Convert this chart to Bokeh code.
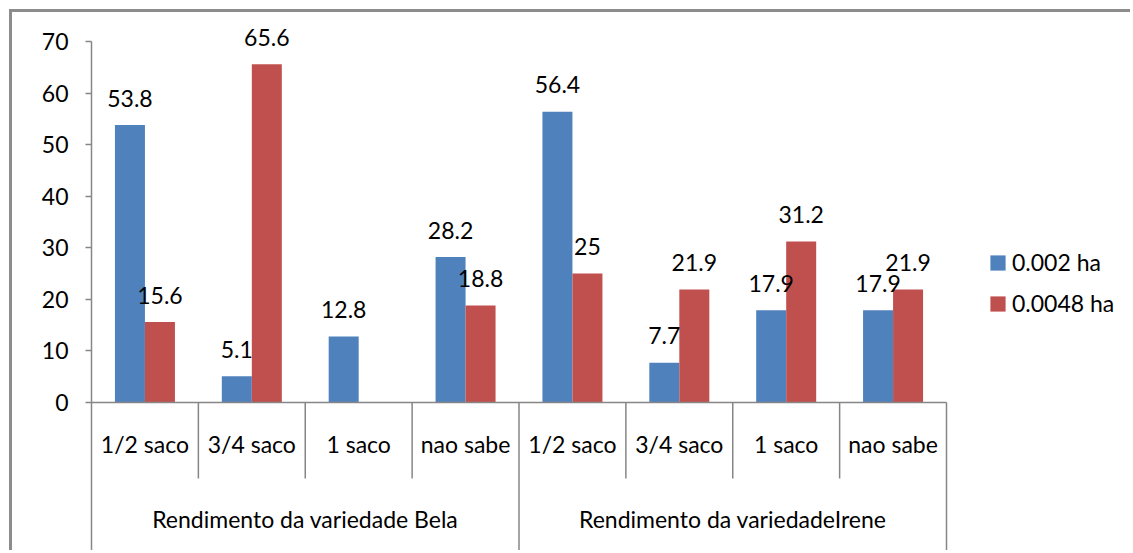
import math
from bokeh.plotting import figure
from bokeh.models import Range1d, FixedTicker, ColumnDataSource, Legend, LegendItem
from bokeh.core.properties import value
from bokeh.embed import file_html
from bokeh.resources import INLINE

# ---------------- data ----------------
groups = ["Rendimento da variedade Bela", "Rendimento da variedadeIrene"]
subcats = ["1/2 saco", "3/4 saco", "1 saco", "nao sabe"]
series_names = ["0.002 ha", "0.0048 ha"]
bela_0002 = [53.8, 5.1, 12.8, 28.2]
bela_00048 = [15.6, 65.6, float("nan"), 18.8]
irene_0002 = [56.4, 7.7, 17.9, 17.9]
irene_00048 = [25.0, 21.9, 31.2, 21.9]
y_ticks = [0, 10, 20, 30, 40, 50, 60, 70]

series_values = [bela_0002 + irene_0002, bela_00048 + irene_00048]
colors = ["#4F81BD", "#C0504D"]

# ---------------- layout constants ----------------
OFF = 12                     # page offset of canvas (margin 9 + border 3)
W, H = 1133 - OFF, 553 - OFF
LEFT = 91 - OFF
PX = 361.0 / 70.0            # pixels per data unit
ZERO_PAGE = 402              # page y of value 0
y_top = (ZERO_PAGE - OFF) / PX
y_bot = -(553 - ZERO_PAGE) / PX
CAT_PX = 855.0 / 8.0
x_end = (W - LEFT) / CAT_PX
BAR_W = 30.0 / CAT_PX
FONT = "Lato"
FS = "23px"
AX_COLOR = "#868686"

n_cat = len(groups) * len(subcats)
centers = [i + 0.5 for i in range(n_cat)]

p = figure(width=W, height=H, x_range=Range1d(0, x_end), y_range=Range1d(y_bot, y_top),
           output_backend="svg", toolbar_location=None, x_axis_location=None,
           min_border_left=LEFT, min_border_right=0, min_border_top=0, min_border_bottom=0)
p.outline_line_color = None
p.grid.visible = False
p.background_fill_color = "white"
p.border_fill_color = "white"
p.styles = {"margin-left": "9px", "margin-top": "9px",
            "border-left": "3px solid #8c8c8c", "border-top": "3px solid #8c8c8c"}

ya = p.yaxis[0]
ya.ticker = FixedTicker(ticks=y_ticks)
ya.bounds = (y_bot, y_ticks[-1])
ya.axis_line_color = AX_COLOR
ya.axis_line_width = 1.5
ya.major_tick_line_color = AX_COLOR
ya.major_tick_line_width = 1.5
ya.major_tick_out = 6
ya.major_tick_in = 0
ya.minor_tick_out = 0
ya.minor_tick_in = 0
ya.major_label_text_font = FONT
ya.major_label_text_font_size = FS
ya.major_label_text_color = "black"
ya.major_label_standoff = 17

# bars
offsets = [-BAR_W / 2, BAR_W / 2]
renderers = []
labels = []
for s, vals in enumerate(series_values):
    xs = [c + offsets[s] for c in centers]
    src = ColumnDataSource(dict(x=xs, top=vals))
    r = p.vbar(x="x", top="top", bottom=0, width=BAR_W, source=src,
               fill_color=colors[s], line_color=None)
    renderers.append(r)
    lx = [x for x, v in zip(xs, vals) if not math.isnan(v)]
    lv = [v for v in vals if not math.isnan(v)]
    lt = [("%g" % v) for v in lv]
    labels.append((lx, lv, lt))

# data labels drawn on top of all bars
for lx, lv, lt in labels:
    p.text(x=lx, y=lv, text=lt, y_offset=-27, text_align="center", text_baseline="middle",
           text_font=value(FONT), text_font_size=FS, text_color="black")

# category axis (horizontal line + separators)
p.segment(x0=[0], y0=[0], x1=[n_cat], y1=[0], line_color=AX_COLOR, line_width=1.5)
sub_b = [i for i in range(1, n_cat) if i % len(subcats) != 0]
grp_b = [i for i in range(len(subcats), n_cat + 1, len(subcats))]
p.segment(x0=sub_b, y0=[0] * len(sub_b), x1=sub_b, y1=[-(478 - ZERO_PAGE) / PX] * len(sub_b),
          line_color=AX_COLOR, line_width=1.5)
p.segment(x0=grp_b, y0=[0] * len(grp_b), x1=grp_b, y1=[y_bot] * len(grp_b),
          line_color=AX_COLOR, line_width=1.5)

p.text(x=centers, y=[0] * n_cat, text=subcats * len(groups), y_offset=41,
       text_align="center", text_baseline="middle",
       text_font=value(FONT), text_font_size=FS, text_color="black")
gcent = [len(subcats) * (g + 0.5) for g in range(len(groups))]
p.text(x=gcent, y=[0] * len(groups), text=groups, y_offset=116,
       text_align="center", text_baseline="middle",
       text_font=value(FONT), text_font_size=FS, text_color="black")

# legend
legend = Legend(items=[LegendItem(label=series_names[i], renderers=[renderers[i]]) for i in range(2)],
                location=(897, 236), orientation="vertical",
                glyph_width=19, glyph_height=19, label_standoff=5, spacing=13, label_height=27,
                padding=0, margin=0, border_line_color=None, background_fill_alpha=0,
                label_text_font=FONT, label_text_font_size=FS, label_text_color="black")
p.add_layout(legend)

open("out.html", "w").write(file_html(p, INLINE))
